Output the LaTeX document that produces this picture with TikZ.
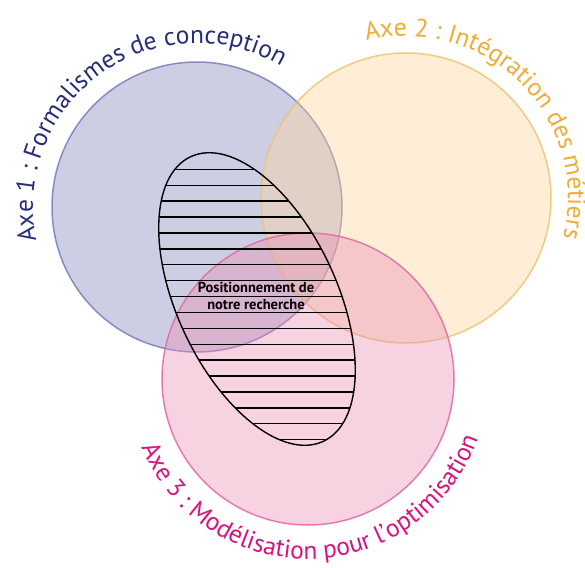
\documentclass[tikz,border=0pt]{standalone}
\usepackage{fontspec}
\setmainfont{PT Sans}
\usetikzlibrary{decorations.text}
\definecolor{bluefill}{RGB}{130,130,188}
\definecolor{bluestroke}{RGB}{120,125,185}
\definecolor{orangefill}{RGB}{252,212,152}
\definecolor{orangestroke}{RGB}{240,195,110}
\definecolor{pinkfill}{RGB}{235,142,180}
\definecolor{pinkstroke}{RGB}{225,105,165}
\definecolor{navytext}{RGB}{38,45,122}
\definecolor{orangetext}{RGB}{240,172,55}
\definecolor{magentatext}{RGB}{215,20,125}
\newcommand\labfont{\fontsize{25.5}{30}\selectfont}
\begin{document}
\begin{tikzpicture}[x=1pt,y=1pt,
  venn/.style={line width=1.5pt, fill opacity=0.4, draw opacity=0.85},
  hatchline/.style={line width=1.4pt, black},
  arclabel/.style={decorate, decoration={text along path, text align=center, text color=#1}}
  ]
\useasboundingbox (0,0) rectangle (585,-567);
\coordinate (c1) at (197,-207);
\coordinate (c2) at (406,-198);
\coordinate (c3) at (308,-379);
\coordinate (e) at (257,-299);
\draw[venn, draw=bluestroke, fill=bluefill] (c1) circle[radius=145];
\draw[venn, draw=orangestroke, fill=orangefill] (c2) circle[radius=145];
\draw[venn, draw=pinkstroke, fill=pinkfill] (c3) circle[radius=146];
\begin{scope}
  \clip[rotate around={-65:(e)}] (e) ellipse[x radius=157, y radius=80];
  \foreach \k in {0,...,17}
    \draw[hatchline] (90,{-169.3-15.9*\k}) -- (420,{-169.3-15.9*\k});
\end{scope}
\draw[line width=1.4pt, rotate around={-65:(e)}] (e) ellipse[x radius=157, y radius=80];
\node[font=\bfseries\fontsize{14.5}{17}\selectfont, align=center] (pos) at (256,-296) {Positionnement de\\notre recherche};
\path[arclabel=navytext, decoration={text={|\labfont|Axe 1 : Formalismes de conception}}]
  ([shift={(205.5:164)}]c1) arc[start angle=205.5, end angle=45.5, radius=164];
\path[arclabel=orangetext, decoration={text={|\labfont|Axe 2 : Intégration des métiers}}]
  ([shift={(125:162)}]c2) arc[start angle=125, end angle=-35, radius=162];
\path[arclabel=magentatext, decoration={text={|\labfont|Axe 3 : Modélisation pour l’optimisation}}]
  ([shift={(-178.5:180)}]c3) arc[start angle=-178.5, end angle=1.5, radius=180];
\end{tikzpicture}
\end{document}
